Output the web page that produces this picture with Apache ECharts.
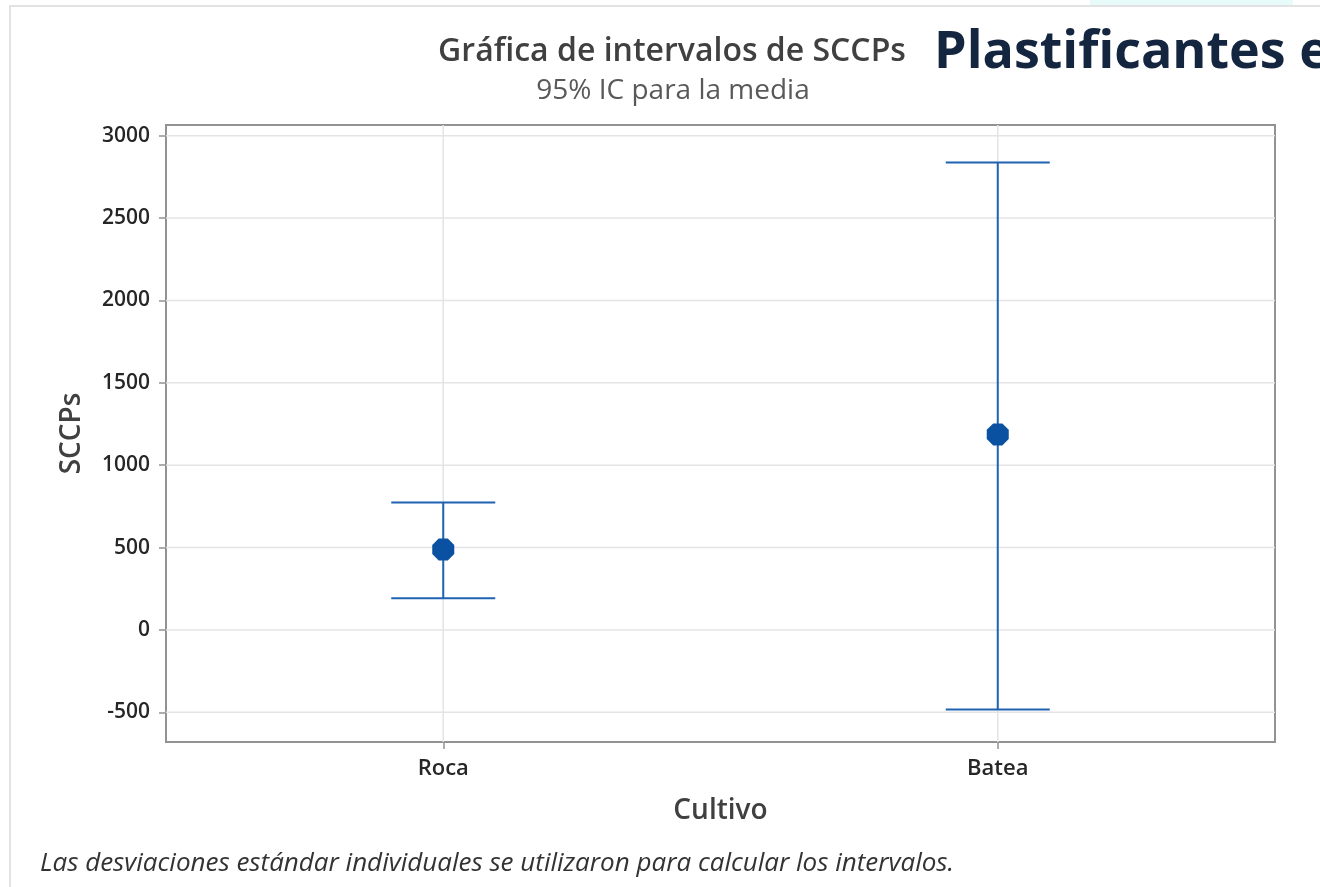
<!DOCTYPE html>
<html>
<head>
<meta charset="utf-8">
<script src="https://cdn.jsdelivr.net/npm/echarts@6/dist/echarts.min.js"></script>
<style>
html,body{margin:0;padding:0;background:#fff;}
#chart{width:1320px;height:887px;}
</style>
</head>
<body>
<div id="chart"></div>
<script>
const categories = ['Roca', 'Batea'];
const means = [488, 1187];
const lowerCI = [193, -482];
const upperCI = [774, 2838];
const yTicks = [-500, 0, 500, 1000, 1500, 2000, 2500, 3000];

const chart = echarts.init(document.getElementById('chart'), null, {renderer: 'canvas'});

const barData = categories.map((c, i) => [i, lowerCI[i], upperCI[i]]);
const meanData = categories.map((c, i) => [c, means[i]]);
const hGridData = yTicks.map(v => [0, v]);
const vGridData = categories.map((c, i) => [i, 0]);

const gridStyle = {stroke: '#e4e4e4', lineWidth: 1.5};

const option = {
  animation: false,
  backgroundColor: '#ffffff',
  title: [
    {
      text: 'Gráfica de intervalos de SCCPs',
      left: 667, top: 31, textAlign: 'center',
      textStyle: {fontFamily: 'Open Sans', fontWeight: 600, fontSize: 32, color: '#404040'}
    },
    {
      text: '95% IC para la media',
      left: 668, top: 72, textAlign: 'center',
      textStyle: {fontFamily: 'Open Sans', fontWeight: 400, fontSize: 28, color: '#595959'}
    }
  ],
  graphic: [
    {type: 'rect', shape: {x: 1090, y: 0, width: 203, height: 5}, style: {fill: '#e8fbfb'}, silent: true},
    {type: 'polyline', shape: {points: [[10, 887], [10, 6], [1320, 6]]}, style: {stroke: '#e2e2e2', lineWidth: 2, fill: null}, silent: true},
    {type: 'text', x: 934, y: 53, style: {text: 'Plastificantes e', font: 'bold 52px "Open Sans"', fill: '#13253f', verticalAlign: 'middle'}, silent: true},
    {type: 'text', x: 40, y: 864, style: {text: 'Las desviaciones estándar individuales se utilizaron para calcular los intervalos.', font: 'italic 26px "Open Sans"', fill: '#333333', verticalAlign: 'middle'}, silent: true}
  ],
  grid: {
    left: 166, right: 45, top: 125, bottom: 145,
    show: true, borderColor: '#929292', borderWidth: 2, backgroundColor: 'transparent'
  },
  xAxis: {
    type: 'category',
    data: categories,
    boundaryGap: true,
    position: 'bottom',
    name: 'Cultivo',
    nameLocation: 'middle',
    nameGap: 55,
    nameTextStyle: {fontFamily: 'Open Sans', fontWeight: 600, fontSize: 28, color: '#404040'},
    axisLine: {show: false, onZero: false},
    axisTick: {show: true, alignWithLabel: true, interval: 0, length: 7, lineStyle: {color: '#929292', width: 1.5}},
    axisLabel: {margin: 16, fontFamily: 'Open Sans', fontWeight: 600, fontSize: 22, color: '#262626'},
    splitLine: {show: false}
  },
  yAxis: {
    type: 'value',
    min: -680,
    max: 3065,
    position: 'left',
    name: 'SCCPs',
    nameLocation: 'middle',
    nameGap: 80,
    nameTextStyle: {fontFamily: 'Open Sans', fontWeight: 600, fontSize: 28, color: '#404040'},
    axisLine: {show: false, onZero: false},
    axisTick: {show: true, customValues: yTicks, length: 7, lineStyle: {color: '#929292', width: 1.5}},
    axisLabel: {customValues: yTicks, formatter: v => String(v), margin: 16, fontFamily: 'Open Sans', fontWeight: 600, fontSize: 21, color: '#262626'},
    splitLine: {show: false}
  },
  series: [
    {
      type: 'custom',
      z: 1,
      silent: true,
      data: hGridData,
      renderItem: function (params, api) {
        const cs = params.coordSys;
        const y = api.coord([0, api.value(1)])[1];
        return {type: 'line', shape: {x1: cs.x, y1: y, x2: cs.x + cs.width, y2: y}, style: gridStyle};
      }
    },
    {
      type: 'custom',
      z: 1,
      silent: true,
      data: vGridData,
      renderItem: function (params, api) {
        const cs = params.coordSys;
        const x = api.coord([api.value(0), 0])[0];
        return {type: 'line', shape: {x1: x, y1: cs.y, x2: x, y2: cs.y + cs.height}, style: gridStyle};
      }
    },
    {
      type: 'custom',
      z: 3,
      data: barData,
      encode: {x: 0, y: [1, 2]},
      renderItem: function (params, api) {
        const i = api.value(0);
        const lo = api.coord([i, api.value(1)]);
        const hi = api.coord([i, api.value(2)]);
        const hw = 52;
        const style = {stroke: '#1f63b2', lineWidth: 2};
        return {
          type: 'group',
          children: [
            {type: 'line', shape: {x1: lo[0], y1: lo[1], x2: hi[0], y2: hi[1]}, style: style},
            {type: 'line', shape: {x1: lo[0] - hw, y1: lo[1], x2: lo[0] + hw, y2: lo[1]}, style: style},
            {type: 'line', shape: {x1: hi[0] - hw, y1: hi[1], x2: hi[0] + hw, y2: hi[1]}, style: style}
          ]
        };
      }
    },
    {
      type: 'scatter',
      z: 4,
      data: meanData,
      symbol: 'path://M29.3,0 L70.7,0 L100,29.3 L100,70.7 L70.7,100 L29.3,100 L0,70.7 L0,29.3 Z',
      symbolSize: 22,
      itemStyle: {color: '#0a51a1', opacity: 1}
    }
  ]
};

chart.setOption(option);
</script>
</body>
</html>
